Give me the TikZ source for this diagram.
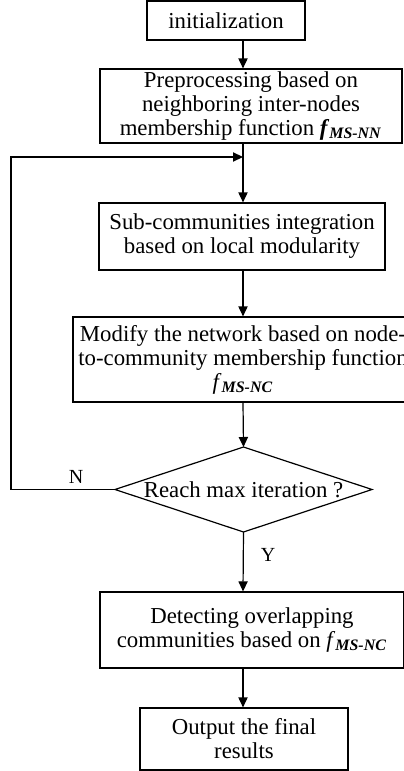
\documentclass[tikz,border=0pt]{standalone}
\usepackage{fontspec}
\setmainfont{Liberation Serif}
\usetikzlibrary{arrows.meta}
\newcommand{\fsub}[1]{\textit{f}\textsubscript{\textbf{\textit{#1}}}}
\begin{document}
\begin{tikzpicture}[x=0.5pt,y=-0.5pt,
  box/.style={draw, line width=0.6pt, align=center, inner sep=0pt,
    font=\fontsize{11.4}{12}\selectfont},
  link/.style={line width=0.6pt, -{Triangle[length=5pt,width=4.6pt]}},
  line/.style={line width=0.6pt},
  lbl/.style={inner sep=0pt, font=\fontsize{10}{12}\selectfont}]
  \fill[white] (0,0) rectangle (403,771);
  \useasboundingbox (0,0) rectangle (403,771);

  % vertical axis of the flow
  \coordinate (spine) at (243,0);

  % process boxes
  \node[box, minimum width=79pt, minimum height=19.5pt] (init) at (226,20.5) {initialization};
  \node[box, minimum width=151pt, minimum height=37pt] (pre) at (251,106)
    {Preprocessing based on\\neighboring inter-nodes\\membership function \textbf{\textit{f}}\textsubscript{\textbf{\textit{MS-NN}}}};
  \node[box, minimum width=143pt, minimum height=33.5pt] (sub) at (242,236.5)
    {Sub-communities integration\\based on local modularity};
  \node[box, minimum width=170pt, minimum height=42.5pt] (mod) at (243,359.5)
    {Modify the network based on node-\\to-community membership function\\\fsub{MS-NC}};

  % decision diamond
  \coordinate (dN) at (243.5,447);
  \coordinate (dS) at (243.5,532);
  \coordinate (dW) at (115,489.5);
  \coordinate (dE) at (372,489.5);
  \draw[line] (dN) -- (dE) -- (dS) -- (dW) -- cycle;
  \node[inner sep=0pt, font=\fontsize{11.4}{12}\selectfont] (dec) at (243.5,489.5) {Reach max iteration ?};

  \node[box, minimum width=152pt, minimum height=38pt] (det) at (252,630)
    {Detecting overlapping\\communities based on \fsub{MS-NC}};
  \node[box, minimum width=104pt, minimum height=31pt] (out) at (244,739)
    {Output the final\\results};

  % connectors
  \draw[link] (init.south -| spine) -- (pre.north -| spine);
  \draw[link] (pre.south -| spine) -- (sub.north -| spine);
  \draw[link] (sub.south -| spine) -- (mod.north -| spine);
  \draw[link] (mod.south -| spine) -- (dN);
  \draw[link] (dS) -- (det.north -| spine);
  \draw[link] (det.south -| spine) -- (out.north -| spine);

  % feedback loop
  \coordinate (loopB) at (11,489.5);
  \coordinate (join) at (243,157);
  \draw[link] (dW) -- (loopB) |- (join);

  \node[lbl] (nlab) at (76,477) {N};
  \node[lbl] (ylab) at (268,555) {Y};
\end{tikzpicture}
\end{document}
